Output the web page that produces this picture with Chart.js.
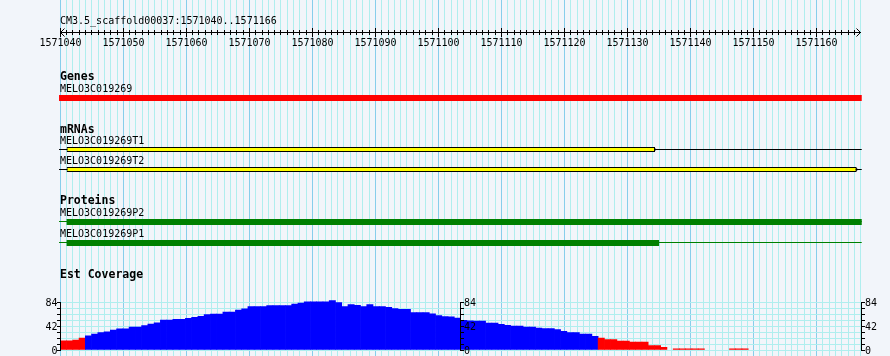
<!DOCTYPE html>
<html>
<head>
<meta charset="utf-8">
<script src="https://cdn.jsdelivr.net/npm/chart.js@4.4.1/dist/chart.umd.min.js"></script>
<style>
  html, body { margin: 0; padding: 0; background: #F2F5FA; }
  canvas { display: block; }
</style>
</head>
<body>
<canvas id="c" width="890" height="356"></canvas>
<script>
// ================= DATA =================
const refName = 'CM3.5_scaffold00037';
const viewStart = 1571040;
const viewEnd = 1571166;
const rulerLabels = [1571040, 1571050, 1571060, 1571070, 1571080, 1571090, 1571100,
                     1571110, 1571120, 1571130, 1571140, 1571150, 1571160];

const trackTitles = ['Genes', 'mRNAs', 'Proteins', 'Est Coverage'];

const geneNames = ['MELO3C019269'];
const geneStarts = [1571039.8];
const geneEnds = [1571167.15];

const mrnaNames = ['MELO3C019269T1', 'MELO3C019269T2'];
const mrnaExonStarts = [1571041, 1571041];
const mrnaExonEnds = [1571134.35, 1571166.35];
const mrnaSpanStarts = [1571039.8, 1571039.8];
const mrnaSpanEnds = [1571167.15, 1571167.15];

const proteinNames = ['MELO3C019269P2', 'MELO3C019269P1'];
const proteinCdsStarts = [1571041, 1571041];
const proteinCdsEnds = [1571167.15, 1571135];
const proteinSpanStarts = [1571039.8, 1571039.8];
const proteinSpanEnds = [1571167.15, 1571167.15];

// EST coverage, 128 bins across the view
const coverageBins = [
  16, 16, 17.5, 21, 25, 28, 30.3, 32, 35, 37,
  37, 40.3, 40.3, 42.6, 45.5, 47.5, 52.5, 52.5, 53.7, 53.7,
  55.4, 57.2, 59, 61.8, 63, 63, 66.5, 66.5, 70, 72,
  75.8, 75.8, 75.8, 77.6, 77.6, 77.6, 77.6, 80.5, 82.3, 84.5,
  84.5, 84.5, 84.5, 86.5, 83, 76, 79.5, 78, 76, 79.5,
  76, 76, 74.5, 72.5, 71, 71, 65.5, 65.5, 65.5, 63.5,
  60.3, 58.5, 58, 56, 52, 51, 50.8, 50.8, 47.3, 47.3,
  44.9, 43.2, 42, 42, 40.3, 40.3, 38.5, 37.3, 37.3, 35.6,
  32.7, 30.3, 30.3, 28, 28, 23.9, 21, 18.1, 18.1, 15.8,
  15.8, 14, 14, 14, 7.8, 7.8, 4.5, 0, 2, 2,
  2, 2, 2, 0, 0, 0, 0, 2, 2, 2,
  0, 0, 0, 0, 0, 0, 0, 0, 0, 0,
  0, 0, 0, 0, 0, 0, 0, 0
];
const coverageTickLabels = [0, 42, 84];
const coverageTickStep = 10.5;
const coverageMax = 84;
const lowCoverageCutoff = 22;

// ================= LAYOUT / STYLE =================
const W = 890, H = 356;
const AREA_LEFT = 60.3, AREA_RIGHT = 860.8;
const BG = '#F2F5FA';
const GRID_MINOR = '#AFEEEE';
const GRID_MAJOR = '#87CEEB';
const MONO = '"DejaVu Sans Mono", "Liberation Mono", monospace';
const ROW = { gene: 98, t1: 149.5, t2: 169.5, p2: 222, p1: 243 };
const LINE_ROW = { t1: 149.5, t2: 169.5, p2: 221.5, p1: 242.5 };
const COV_ZERO_PX = 350, COV_MAX_PX = 302;
const covPxPerUnit = (COV_ZERO_PX - COV_MAX_PX) / coverageMax;
const covMin = -(H - COV_ZERO_PX) / covPxPerUnit;
const covMaxScale = covMin + H / covPxPerUnit;

const covLabels = coverageBins.map((_, i) => i);
const covColors = coverageBins.map(v => v <= 0 ? 'rgba(0,0,0,0)' : (v < lowCoverageCutoff ? '#FF0000' : '#0000FF'));
const trackClip = { left: 2, right: 2, top: 0, bottom: 0 };

function spanLine(s, e, row, color) {
  return {
    type: 'line', xAxisID: 'x', yAxisID: 'yTrk', order: 5,
    data: [{ x: s, y: row }, { x: e, y: row }],
    borderColor: color, borderWidth: 1, pointRadius: 0, pointHitRadius: 0, clip: trackClip
  };
}

const datasets = [
  // coverage histogram
  {
    type: 'bar', xAxisID: 'xCov', yAxisID: 'yCov', order: 3,
    data: coverageBins, backgroundColor: covColors, borderWidth: 0,
    barPercentage: 1, categoryPercentage: 1, grouped: false
  },
  // gene
  {
    type: 'bar', indexAxis: 'y', xAxisID: 'x', yAxisID: 'yTrk', order: 2,
    data: geneNames.map((n, i) => ({ x: [geneStarts[i], geneEnds[i]], y: ROW.gene })),
    backgroundColor: '#FF0000', borderWidth: 0, barThickness: 6,
    grouped: false, inflateAmount: 0, clip: trackClip
  },
  // mRNA exons
  {
    type: 'bar', indexAxis: 'y', xAxisID: 'x', yAxisID: 'yTrk', order: 2,
    data: mrnaNames.map((n, i) => ({ x: [mrnaExonStarts[i], mrnaExonEnds[i]], y: [ROW.t1, ROW.t2][i] })),
    backgroundColor: '#FFFF00', borderColor: '#000000', borderWidth: 1, borderSkipped: false,
    barThickness: 5, grouped: false, inflateAmount: 0, clip: trackClip
  },
  // mRNA arrowheads
  {
    type: 'line', xAxisID: 'x', yAxisID: 'yTrk', order: 1, showLine: false,
    data: mrnaNames.map((n, i) => ({ x: mrnaExonEnds[i], y: [ROW.t1, ROW.t2][i] })),
    pointStyle: 'triangle', rotation: 90, pointRadius: 2, pointBorderWidth: 0, pointHitRadius: 0,
    pointBackgroundColor: '#000000', clip: trackClip
  },
  // protein CDS
  {
    type: 'bar', indexAxis: 'y', xAxisID: 'x', yAxisID: 'yTrk', order: 2,
    data: proteinNames.map((n, i) => ({ x: [proteinCdsStarts[i], proteinCdsEnds[i]], y: [ROW.p2, ROW.p1][i] })),
    backgroundColor: '#008000', borderWidth: 0, barThickness: 6,
    grouped: false, inflateAmount: 0, clip: trackClip
  },
  spanLine(mrnaSpanStarts[0], mrnaSpanEnds[0], LINE_ROW.t1, '#000000'),
  spanLine(mrnaSpanStarts[1], mrnaSpanEnds[1], LINE_ROW.t2, '#000000'),
  spanLine(proteinSpanStarts[0], proteinSpanEnds[0], LINE_ROW.p2, '#008000'),
  spanLine(proteinSpanStarts[1], proteinSpanEnds[1], LINE_ROW.p1, '#008000')
];

const decor = {
  id: 'decor',
  beforeDraw(chart) {
    const ctx = chart.ctx;
    ctx.save();
    ctx.fillStyle = BG;
    ctx.fillRect(0, 0, chart.width, chart.height);
    ctx.restore();
  },
  afterDraw(chart) {
    const ctx = chart.ctx;
    const xs = chart.scales.x;
    const yc = chart.scales.yCov;
    const area = chart.chartArea;
    ctx.save();
    ctx.fillStyle = '#000';
    ctx.strokeStyle = '#000';

    // title
    ctx.font = '10px ' + MONO;
    ctx.textAlign = 'left';
    ctx.textBaseline = 'alphabetic';
    ctx.fillText(refName + ':' + viewStart + '..' + viewEnd, 60, 24);

    // ruler
    const xl = Math.floor(xs.getPixelForValue(viewStart));
    const xr = Math.floor(xs.getPixelForValue(viewEnd + 1));
    ctx.fillRect(xl, 32, xr - xl + 1, 1);
    for (let p = viewStart; p <= viewEnd; p++) {
      const px = Math.floor(xs.getPixelForValue(p));
      if (p % 10 === 0) ctx.fillRect(px, 28, 1, 9);
      else ctx.fillRect(px, 30, 1, 5);
    }
    ctx.lineWidth = 1;
    ctx.beginPath();
    ctx.moveTo(xl + 4.5, 28.5); ctx.lineTo(xl + 0.5, 32.5); ctx.lineTo(xl + 4.5, 36.5);
    ctx.moveTo(xr - 3.5, 28.5); ctx.lineTo(xr + 0.5, 32.5); ctx.lineTo(xr - 3.5, 36.5);
    ctx.stroke();
    ctx.textAlign = 'center';
    rulerLabels.forEach(v => {
      const px = Math.floor(xs.getPixelForValue(v)) + 0.5;
      ctx.fillText(String(v), px, 46);
    });

    // track titles
    ctx.textAlign = 'left';
    ctx.font = 'bold 11.5px ' + MONO;
    const titleY = [80, 132.5, 204, 277.5];
    trackTitles.forEach((t, i) => ctx.fillText(t, 60, titleY[i]));

    // feature labels
    ctx.font = '10px ' + MONO;
    ctx.fillText(geneNames[0], 60, 92);
    ctx.fillText(mrnaNames[0], 60, 144);
    ctx.fillText(mrnaNames[1], 60, 164);
    ctx.fillText(proteinNames[0], 60, 216);
    ctx.fillText(proteinNames[1], 60, 237);

    // coverage axes
    const axes = [
      { x: Math.floor(area.left), side: -1 },
      { x: Math.floor((area.left + area.right) / 2), side: 1 },
      { x: Math.round(area.right), side: 1 }
    ];
    const topRow = Math.round(yc.getPixelForValue(coverageMax));
    const zeroRow = Math.round(yc.getPixelForValue(0));
    axes.forEach(a => {
      ctx.fillRect(a.x, topRow, 1, zeroRow - topRow + 1);
      for (let v = 0; v <= coverageMax + 1e-6; v += coverageTickStep) {
        const r = Math.round(yc.getPixelForValue(v));
        if (a.side < 0) ctx.fillRect(a.x - 3, r, 3, 1);
        else ctx.fillRect(a.x + 1, r, 3, 1);
      }
      ctx.textAlign = a.side < 0 ? 'right' : 'left';
      coverageTickLabels.forEach(v => {
        const r = Math.round(yc.getPixelForValue(v));
        ctx.fillText(String(v), a.side < 0 ? a.x - 2.5 : a.x + 4, r + 3.5);
      });
    });
    ctx.restore();
  }
};

new Chart(document.getElementById('c'), {
  type: 'bar',
  data: { datasets },
  options: {
    responsive: false,
    animation: false,
    devicePixelRatio: 1,
    layout: { autoPadding: false, padding: { left: AREA_LEFT, right: W - AREA_RIGHT, top: 0, bottom: 0 } },
    plugins: { legend: { display: false }, tooltip: { enabled: false }, title: { display: false } },
    scales: {
      x: {
        type: 'linear', position: 'bottom', min: viewStart, max: viewEnd + 1, offset: false,
        ticks: { display: false, stepSize: 1 },
        grid: {
          drawTicks: false, lineWidth: 1, offset: false,
          color: c => (c.tick && Math.round(c.tick.value) % 10 === 0) ? GRID_MAJOR : GRID_MINOR
        },
        border: { display: false }
      },
      xCov: { type: 'category', labels: covLabels, display: false, offset: true },
      yCov: {
        type: 'linear', position: 'left', min: covMin, max: covMaxScale, offset: false,
        ticks: { display: false, stepSize: coverageTickStep },
        grid: {
          drawTicks: false, lineWidth: 1, offset: false,
          color: c => (c.tick && c.tick.value >= -1e-6 && c.tick.value <= coverageMax + 1e-6) ? GRID_MINOR : 'rgba(0,0,0,0)'
        },
        border: { display: false }
      },
      yTrk: { type: 'linear', min: 0, max: H, reverse: true, display: false, offset: false }
    }
  },
  plugins: [decor]
});
</script>
</body>
</html>
